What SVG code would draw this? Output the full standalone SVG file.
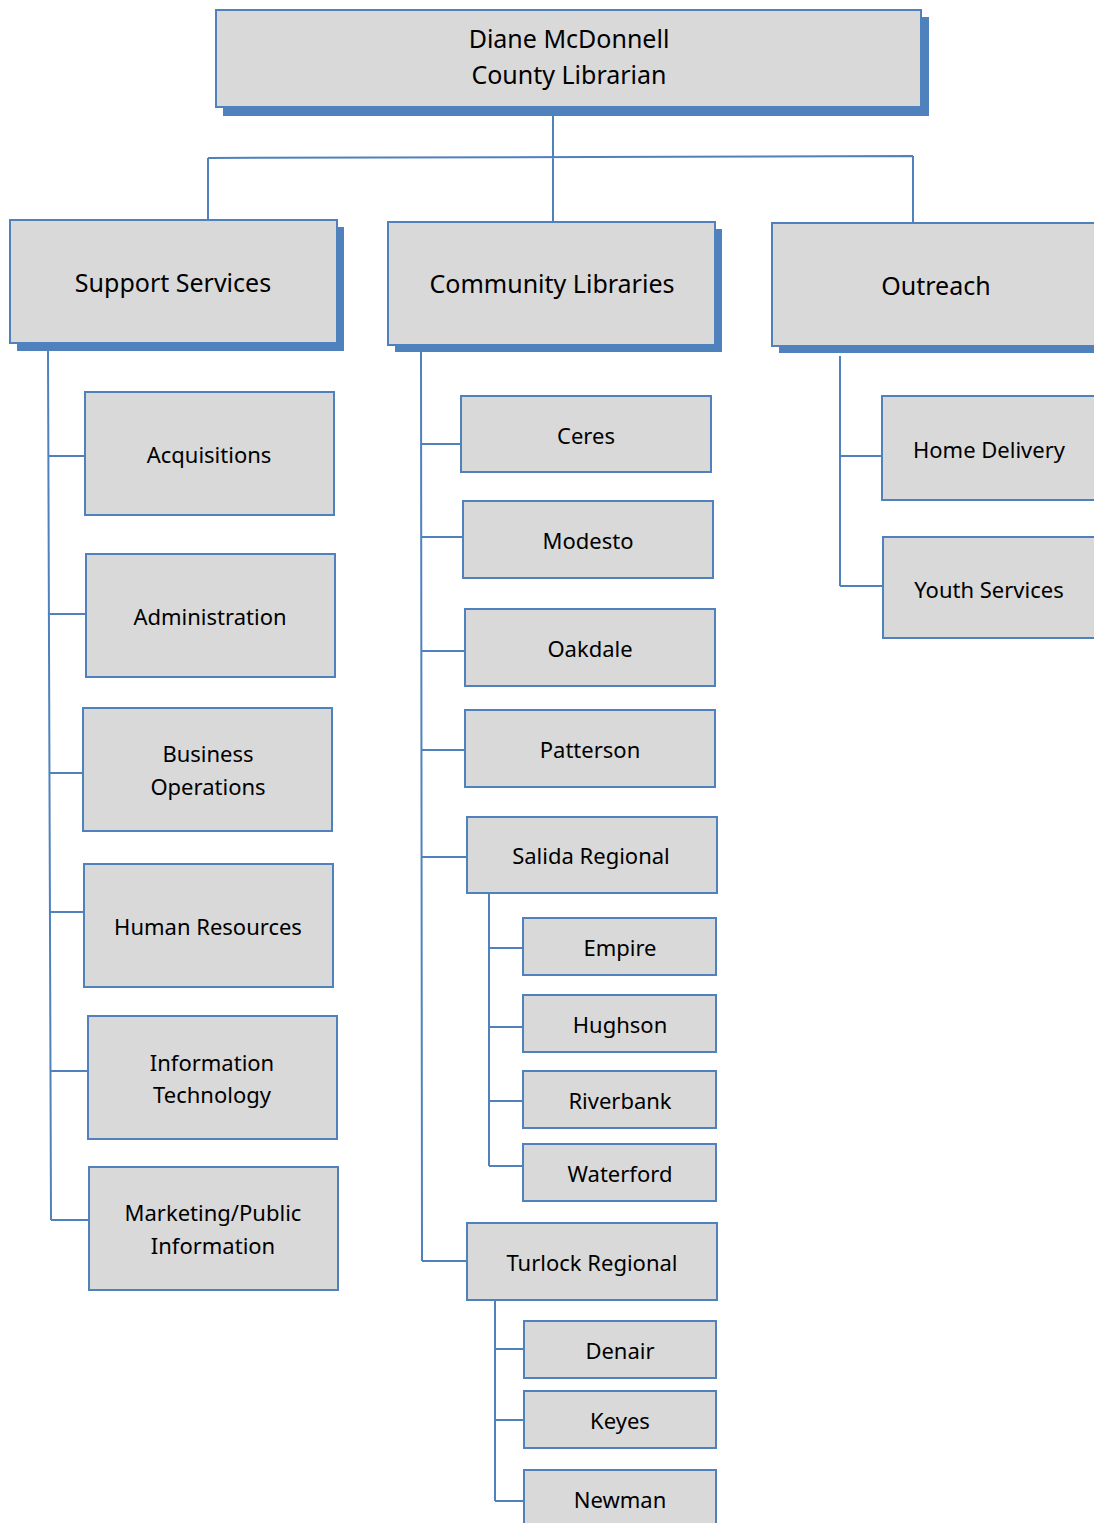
<svg xmlns="http://www.w3.org/2000/svg" width="1094" height="1523" viewBox="0 0 1094 1523">
<style>
.box{fill:#D9D9D9;stroke:#4F81BD;stroke-width:2}
.sh{fill:#4F81BD}
.ln{fill:none;stroke:#4F81BD;stroke-width:2}
text{font-family:"Noto Sans","Open Sans",sans-serif;fill:#000;text-anchor:middle;dominant-baseline:central}
.t1{font-size:25px}
.t2{font-size:22px}
</style>
<rect width="1094" height="1523" fill="#fff"/>
<g id="connectors">
<path class="ln" d="M553 116 V221 M208 158 L913 156 M208 158 V220 M913 156 V222"/>
<path class="ln" d="M48 351 L51 1220 M49 456 H85 M49 614 H86 M50 773 H83 M50 912 H84 M50 1071 H88 M51 1220 H89"/>
<path class="ln" d="M421 352 L422 1261 M421 444 H461 M421 537 H463 M421 651 H465 M421 750 H465 M421 857 H467 M422 1261 H467"/>
<path class="ln" d="M489 893 V1166 M489 948 H523 M489 1027 H523 M489 1101 H523 M489 1166 H523"/>
<path class="ln" d="M495 1300 V1501 M495 1349 H524 M495 1420 H524 M495 1501 H524"/>
<path class="ln" d="M840 356 V586 M840 456 H882 M840 586 H883"/>
</g>
<g id="n-director">
<rect class="sh" x="223" y="17" width="706" height="99"/>
<rect class="box" x="216" y="10" width="705" height="97"/>
<text class="t1" x="569" y="38">Diane McDonnell</text>
<text class="t1" x="569" y="74">County Librarian</text>
</g>
<g id="n-support">
<rect class="sh" x="17" y="227" width="327" height="124"/>
<rect class="box" x="10" y="220" width="327" height="123"/>
<text class="t1" x="173" y="282">Support Services</text>
</g>
<g id="n-community">
<rect class="sh" x="395" y="229" width="327" height="123"/>
<rect class="box" x="388" y="222" width="327" height="123"/>
<text class="t1" x="552" y="283">Community Libraries</text>
</g>
<g id="n-outreach">
<rect class="sh" x="779" y="230" width="330" height="123"/>
<rect class="box" x="772" y="223" width="330" height="123"/>
<text class="t1" x="936" y="285">Outreach</text>
</g>
<g id="n-acq"><rect class="box" x="85" y="392" width="249" height="123"/><text class="t2" x="209" y="454">Acquisitions</text></g>
<g id="n-admin"><rect class="box" x="86" y="554" width="249" height="123"/><text class="t2" x="210" y="616">Administration</text></g>
<g id="n-bus"><rect class="box" x="83" y="708" width="249" height="123"/><text class="t2" x="208" y="753">Business</text><text class="t2" x="208" y="786">Operations</text></g>
<g id="n-hr"><rect class="box" x="84" y="864" width="249" height="123"/><text class="t2" x="208" y="926">Human Resources</text></g>
<g id="n-it"><rect class="box" x="88" y="1016" width="249" height="123"/><text class="t2" x="212" y="1062">Information</text><text class="t2" x="212" y="1094">Technology</text></g>
<g id="n-mkt"><rect class="box" x="89" y="1167" width="249" height="123"/><text class="t2" x="213" y="1212">Marketing/Public</text><text class="t2" x="213" y="1245">Information</text></g>
<g id="n-ceres"><rect class="box" x="461" y="396" width="250" height="76"/><text class="t2" x="586" y="435">Ceres</text></g>
<g id="n-modesto"><rect class="box" x="463" y="501" width="250" height="77"/><text class="t2" x="588" y="540">Modesto</text></g>
<g id="n-oakdale"><rect class="box" x="465" y="609" width="250" height="77"/><text class="t2" x="590" y="648">Oakdale</text></g>
<g id="n-patterson"><rect class="box" x="465" y="710" width="250" height="77"/><text class="t2" x="590" y="749">Patterson</text></g>
<g id="n-salida"><rect class="box" x="467" y="817" width="250" height="76"/><text class="t2" x="591" y="855">Salida Regional</text></g>
<g id="n-empire"><rect class="box" x="523" y="918" width="193" height="57"/><text class="t2" x="620" y="947">Empire</text></g>
<g id="n-hughson"><rect class="box" x="523" y="995" width="193" height="57"/><text class="t2" x="620" y="1024">Hughson</text></g>
<g id="n-riverbank"><rect class="box" x="523" y="1071" width="193" height="57"/><text class="t2" x="620" y="1100">Riverbank</text></g>
<g id="n-waterford"><rect class="box" x="523" y="1144" width="193" height="57"/><text class="t2" x="620" y="1173">Waterford</text></g>
<g id="n-turlock"><rect class="box" x="467" y="1223" width="250" height="77"/><text class="t2" x="592" y="1262">Turlock Regional</text></g>
<g id="n-denair"><rect class="box" x="524" y="1321" width="192" height="57"/><text class="t2" x="620" y="1350">Denair</text></g>
<g id="n-keyes"><rect class="box" x="524" y="1391" width="192" height="57"/><text class="t2" x="620" y="1420">Keyes</text></g>
<g id="n-newman"><rect class="box" x="524" y="1470" width="192" height="60"/><text class="t2" x="620" y="1499">Newman</text></g>
<g id="n-home"><rect class="box" x="882" y="396" width="220" height="104"/><text class="t2" x="989" y="449">Home Delivery</text></g>
<g id="n-youth"><rect class="box" x="883" y="537" width="220" height="101"/><text class="t2" x="989" y="589">Youth Services</text></g>
</svg>
